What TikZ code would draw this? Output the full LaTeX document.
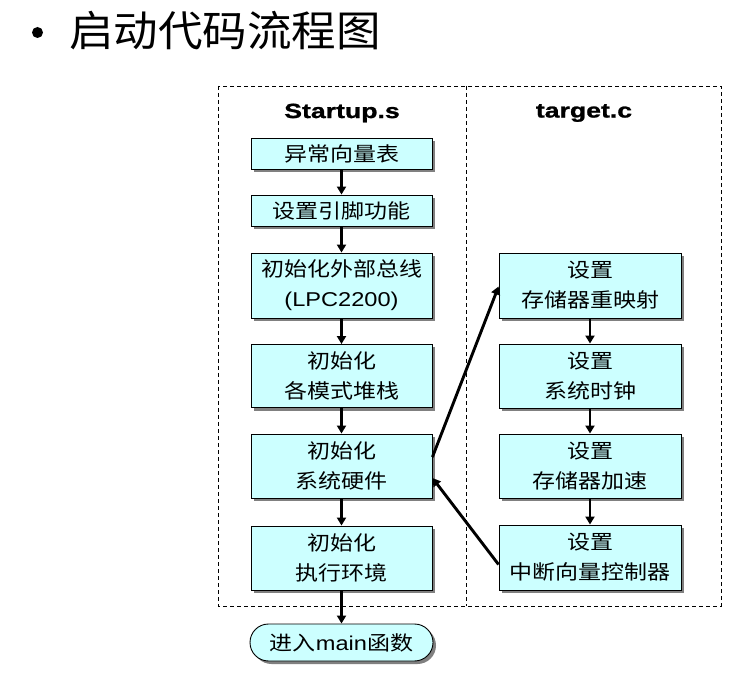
\documentclass[tikz,border=0pt]{standalone}
\usepackage{fontspec}
\setmainfont{Liberation Sans}
\newfontfamily\cjk[FakeStretch=1.15]{Noto Sans CJK SC}
\newfontfamily\titlefont[FakeStretch=1.06]{Noto Sans CJK SC}
\newfontfamily\lat[FakeStretch=1.18]{Liberation Sans}
\newfontfamily\hdr[FakeStretch=1.3,FakeBold=1.2]{Liberation Sans Bold}
\usetikzlibrary{shadows,arrows.meta,shapes.misc}
\definecolor{boxcyan}{HTML}{CCFFFF}
\tikzset{
  flowbox/.style={draw=black, line width=0.9pt, fill=boxcyan, inner sep=0pt,
    align=center, font=\cjk\fontsize{20}{30}\selectfont,
    drop shadow={shadow xshift=3pt, shadow yshift=-3pt, fill=black!50, opacity=1}},
  endbox/.style={flowbox, rounded rectangle, minimum width=183pt, minimum height=37pt},
  flowarrow/.style={line width=2.9pt, -{Triangle[length=8pt,width=9pt]}},
  frameline/.style={line width=0.8pt, dash pattern=on 4pt off 3pt},
  header/.style={font=\hdr\fontsize{20.5}{24}\selectfont, inner sep=0pt}
}
\begin{document}
\begin{tikzpicture}[x=1pt,y=-1pt]
\useasboundingbox (0,0) rectangle (729,679);
% title
\node[circle, fill=black, inner sep=0pt, minimum size=11pt] (bullet) at (37.5,32.5) {};
\node[anchor=west, inner sep=0pt, font=\titlefont\fontsize{42}{48}\selectfont] (title) at (69,31) {启动代码流程图};
% frame
\coordinate (ftl) at (218,86);
\coordinate (fbr) at (721,606);
\coordinate (dtop) at (466,86);
\coordinate (dbot) at (466,606);
\draw[frameline] (ftl) rectangle (fbr);
\draw[frameline] (dtop) -- (dbot);
% headers
\node[header] (h1) at (342,113) {Startup.s};
\node[header] (h2) at (584,113) {target.c};
% left column
\node[flowbox, minimum width=181pt, minimum height=31pt] (b1) at (341.5,153.5) {异常向量表};
\node[flowbox, minimum width=181pt, minimum height=31pt] (b2) at (341.5,210.5) {设置引脚功能};
\node[flowbox, minimum width=181pt, minimum height=65pt] (b3) at (341.5,285.5) {初始化外部总线\\{\lat (LPC2200)}};
\node[flowbox, minimum width=181pt, minimum height=63pt] (b4) at (341.5,376) {初始化\\各模式堆栈};
\node[flowbox, minimum width=181pt, minimum height=64pt] (b5) at (341.5,466) {初始化\\系统硬件};
\node[flowbox, minimum width=181pt, minimum height=64pt] (b6) at (341.5,558) {初始化\\执行环境};
\node[endbox] (e) at (341.5,642.5) {进入{\lat main}函数};
% right column
\node[flowbox, minimum width=182pt, minimum height=65pt] (r1) at (590,285.5) {设置\\存储器重映射};
\node[flowbox, minimum width=182pt, minimum height=64pt] (r2) at (590,376) {设置\\系统时钟};
\node[flowbox, minimum width=182pt, minimum height=64pt] (r3) at (590,466) {设置\\存储器加速};
\node[flowbox, minimum width=182pt, minimum height=65pt] (r4) at (590,557.5) {设置\\中断向量控制器};
% arrows
\draw[flowarrow] (b1) -- (b2);
\draw[flowarrow] (b2) -- (b3);
\draw[flowarrow] (b3) -- (b4);
\draw[flowarrow] (b4) -- (b5);
\draw[flowarrow] (b5) -- (b6);
\draw[flowarrow] (b6) -- (e);
\draw[flowarrow] (r1) -- (r2);
\draw[flowarrow] (r2) -- (r3);
\draw[flowarrow] (r3) -- (r4);
\draw[flowarrow] ([yshift=9pt]b5.east) -- ([yshift=-1pt]r1.west);
\draw[flowarrow] ([yshift=-7pt]r4.west) -- ([yshift=-12pt]b5.east);
\end{tikzpicture}
\end{document}
